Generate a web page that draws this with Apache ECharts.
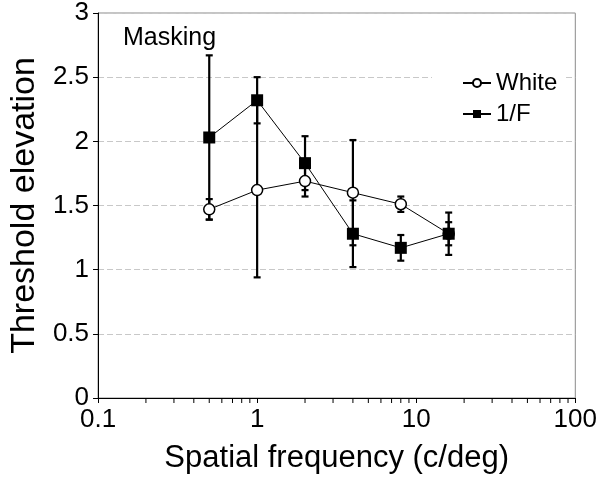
<!DOCTYPE html>
<html><head><meta charset="utf-8">
<script src="https://cdn.jsdelivr.net/npm/echarts@6/dist/echarts.min.js"></script>
<style>html,body{margin:0;padding:0;background:#fff}#c{width:600px;height:484px}</style>
</head><body><div id="c"></div>
<script>
const freqs = [0.5, 1, 2, 4, 8, 16];
const whiteVals = [1.47, 1.62, 1.69, 1.60, 1.51, 1.28];
const whiteErr = [0.08, 0.68, 0.12, 0.41, 0.06, 0.09];
const pinkVals = [2.03, 2.32, 1.83, 1.28, 1.17, 1.28];
const pinkErr = [0.64, 0.18, 0.21, 0.26, 0.10, 0.165];
const minorTickVals = [0.2,0.3,0.4,0.5,0.6,0.7,0.8,0.9,2,3,4,5,6,7,8,9,20,30,40,50,60,70,80,90];

const FONT = 'Liberation Sans, Arial, Helvetica, sans-serif';
const chart = echarts.init(document.getElementById('c'));

function errData(vals, errs) {
  return freqs.map((f, i) => [f, vals[i] - errs[i], vals[i] + errs[i]]);
}
function errRender(params, api) {
  const x = api.value(0);
  const lo = api.coord([x, api.value(1)]);
  const hi = api.coord([x, api.value(2)]);
  const w = 3.5;
  const st = {stroke: '#000', lineWidth: 2.2};
  return {type: 'group', children: [
    {type: 'line', shape: {x1: lo[0], y1: lo[1], x2: hi[0], y2: hi[1]}, style: st},
    {type: 'line', shape: {x1: lo[0]-w, y1: lo[1], x2: lo[0]+w, y2: lo[1]}, style: st},
    {type: 'line', shape: {x1: hi[0]-w, y1: hi[1], x2: hi[0]+w, y2: hi[1]}, style: st}
  ]};
}

chart.setOption({
  animation: false,
  textStyle: {fontFamily: FONT},
  grid: {left: 91, right: 21, top: 12, bottom: 86, show: true, borderColor: '#8a8a8a', borderWidth: 1},
  title: {text: 'Masking', left: 123, top: 26, padding: 0, textStyle: {fontFamily: FONT, fontSize: 25, fontWeight: 'normal', color: '#000'}},
  legend: {
    orient: 'vertical', left: 432, top: 59,
    padding: [12, 8, 10, 30],
    backgroundColor: '#fff',
    itemWidth: 28, itemHeight: 10, itemGap: 7,
    textStyle: {fontFamily: FONT, fontSize: 24, color: '#000', padding: [0, 0, 0, 0]},
    data: [{name: 'White'}, {name: '1/F'}]
  },
  xAxis: {
    type: 'log', logBase: 10, min: 0.1, max: 100,
    name: 'Spatial frequency (c/deg)', nameLocation: 'middle', nameGap: 45,
    nameTextStyle: {fontFamily: FONT, fontSize: 31, color: '#000'},
    axisLine: {lineStyle: {color: '#000', width: 1}},
    axisTick: {show: true, length: 5, lineStyle: {color: '#000'}},
    axisLabel: {fontFamily: FONT, fontSize: 26, color: '#000', margin: 9,
      formatter: v => String(v)},
    splitLine: {show: false}
  },
  yAxis: {
    type: 'value', min: 0, max: 3, interval: 0.5,
    name: 'Threshold elevation', nameLocation: 'middle', nameGap: 56,
    nameTextStyle: {fontFamily: FONT, fontSize: 34, color: '#000'},
    axisLine: {show: true, lineStyle: {color: '#000', width: 1}},
    axisTick: {show: true, length: 5, lineStyle: {color: '#000'}},
    axisLabel: {fontFamily: FONT, fontSize: 26, color: '#000', margin: 9},
    splitLine: {show: true, lineStyle: {color: '#c8c8c8', type: [6, 3], width: 1}}
  },
  series: [
    {type: 'custom', name: 'minor', silent: true, clip: false, z: 1,
      data: minorTickVals.map(v => [v, 0]),
      renderItem: (p, api) => {
        const pt = api.coord([api.value(0), 0]);
        return {type: 'line', shape: {x1: pt[0], y1: pt[1], x2: pt[0], y2: pt[1] + 5}, style: {stroke: '#000', lineWidth: 1}};
      }},
    {type: 'custom', name: 'errW', silent: true, z: 2, data: errData(whiteVals, whiteErr), renderItem: errRender},
    {type: 'custom', name: 'errP', silent: true, z: 2, data: errData(pinkVals, pinkErr), renderItem: errRender},
    {type: 'line', name: 'White', z: 3, data: freqs.map((f, i) => [f, whiteVals[i]]),
      symbol: 'circle', symbolSize: 11, showAllSymbol: true,
      lineStyle: {color: '#000', width: 1},
      itemStyle: {color: '#fff', borderColor: '#000', borderWidth: 1.5}},
    {type: 'line', name: '1/F', z: 4, data: freqs.map((f, i) => [f, pinkVals[i]]),
      symbol: 'rect', symbolSize: 12, showAllSymbol: true,
      lineStyle: {color: '#000', width: 1},
      itemStyle: {color: '#000', borderColor: '#000', borderWidth: 0}}
  ]
});
</script></body></html>
